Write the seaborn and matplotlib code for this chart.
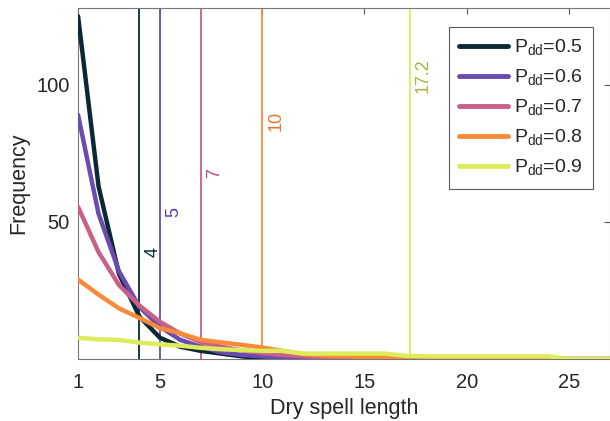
import numpy as np
import pandas as pd
import matplotlib
matplotlib.use("Agg")
import matplotlib.pyplot as plt
import seaborn as sns
from matplotlib.lines import Line2D

# ---- data ----
spell_length = list(range(1, 31))
p_labels = ["0.5", "0.6", "0.7", "0.8", "0.9"]
freq_05 = [125, 63, 31, 15.5, 7.8, 4.5, 3, 2, 1, 0.3, 0, 0, 0, 0, 0, 0, 0, 0, 0, 0, 0, 0, 0, 0, 0, 0, 0, 0, 0, 0]
freq_06 = [89, 53, 32, 19, 11.8, 7, 4.5, 2.5, 1.5, 1, 0.5, 0.3, 0.2, 0, 0, 0, 0, 0, 0, 0, 0, 0, 0, 0, 0, 0, 0, 0, 0, 0]
freq_07 = [55.5, 39, 27, 19.5, 13.6, 9.3, 6.2, 4.5, 3.2, 2.2, 1.5, 1, 0.7, 0.4, 0.2, 0, 0, 0, 0, 0, 0, 0, 0, 0, 0, 0, 0, 0, 0, 0]
freq_08 = [29, 23.5, 18.5, 15, 11.3, 9.4, 7, 6.1, 5.2, 4.2, 3, 1.8, 1.3, 1, 0.8, 0.6, 0.4, 0.3, 0.2, 0.1, 0, 0, 0, 0, 0, 0, 0, 0, 0, 0]
freq_09 = [7.8, 7.2, 7, 6, 5.4, 4.9, 4.1, 3.6, 3.3, 3, 3, 2, 2, 2, 2, 2, 1.2, 1, 1, 1, 1, 1, 1, 1, 0, 0, 0, 0, 0, 0]
threshold_values = [4, 5, 7, 10, 17.2]
threshold_labels = ["4", "5", "7", "10", "17.2"]
label_heights = [39, 53.5, 68, 87, 103.5]
xtick_values = [1, 5, 10, 15, 20, 25]
ytick_values = [50, 100]

line_colors = ["#0b2836", "#6a4cb0", "#c8608a", "#f98a3a", "#dcec5a"]
text_colors = ["#0b2836", "#5a3ea0", "#b84878", "#e8782a", "#a9b240"]

series = [freq_05, freq_06, freq_07, freq_08, freq_09]
rows = []
for lab, vals in zip(p_labels, series):
    for x, v in zip(spell_length, vals):
        rows.append({"length": x, "freq": v, "P": lab})
df = pd.DataFrame(rows)

sns.set_style("white")
plt.rcParams["font.family"] = ["Liberation Sans", "DejaVu Sans"]
plt.rcParams["mathtext.fontset"] = "custom"
plt.rcParams["mathtext.rm"] = "Liberation Sans"

fig = plt.figure(figsize=(6.10, 4.21), dpi=100)
ax = fig.add_axes([0.128, 0.147, 0.872, 0.834])

# vertical threshold lines (drawn beneath curves)
for xv, c in zip(threshold_values, line_colors):
    ax.axvline(xv, color=c, lw=1.3, zorder=1)

sns.lineplot(data=df, x="length", y="freq", hue="P", palette=line_colors,
             hue_order=p_labels, linewidth=3.2, ax=ax, legend=False, zorder=3)

for xv, lab, yh, c in zip(threshold_values, threshold_labels, label_heights, text_colors):
    ax.text(xv + 0.25, yh, lab, rotation=90, ha="left", va="center",
            color=c, fontsize=13, zorder=4)

ax.set_xlim(1, 27)
ax.set_ylim(0, 128)
ax.set_xticks(xtick_values)
ax.set_yticks(ytick_values)
ax.set_xlabel("Dry spell length", fontsize=15.5, color="#262626", labelpad=4)
ax.set_ylabel("Frequency", fontsize=15.5, color="#262626", labelpad=5)
ax.tick_params(direction="in", length=4, width=0.8, colors="#555555",
               labelcolor="#262626", labelsize=14.5, top=True, right=True)
ax.tick_params(axis="x", pad=10)
ax.tick_params(axis="y", pad=6)
for s in ax.spines.values():
    s.set_visible(True)
    s.set_color("#777777")
    s.set_linewidth(0.8)

handles = [Line2D([0], [0], color=c, lw=3.5) for c in line_colors]
labels = [r"P$_{\mathrm{dd}}$=" + p for p in p_labels]
leg = ax.legend(handles, labels, loc="upper right", bbox_to_anchor=(0.968, 0.946),
                fontsize=14, handlelength=2.5, handletextpad=0.3, labelspacing=0.5,
                frameon=True, fancybox=False, borderpad=0.55, borderaxespad=0)
leg.get_frame().set_edgecolor("#333333")
leg.get_frame().set_linewidth(0.8)

fig.savefig("out.png", dpi=100)
